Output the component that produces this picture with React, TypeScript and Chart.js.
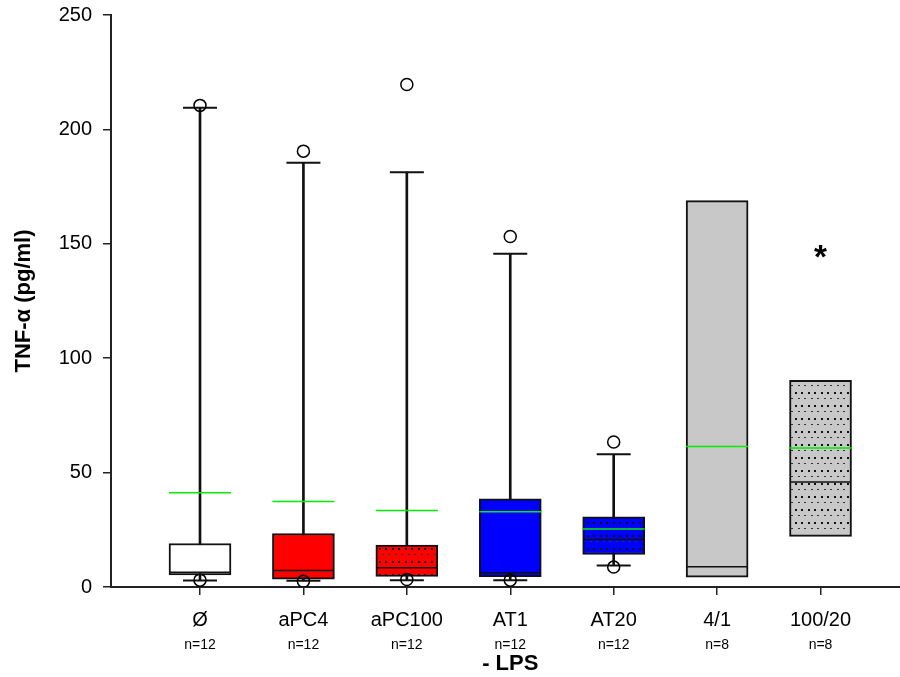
import React, { useEffect, useRef } from 'react';
import { Chart, registerables } from 'chart.js';

Chart.register(...registerables);

const FONT = '"Liberation Sans", Arial, Helvetica, sans-serif';

// ---- data ----
const categories = ['Ø', 'aPC4', 'aPC100', 'AT1', 'AT20', '4/1', '100/20'];
const nLabels = ['n=12', 'n=12', 'n=12', 'n=12', 'n=12', 'n=8', 'n=8'];
const q1 = [5.3, 3.4, 4.6, 4.5, 14.2, 4.3, 22.1];
const q3 = [19.0, 23.4, 18.3, 38.5, 30.7, 168.9, 90.3];
const medians = [6.5, 7.2, 8.4, 6.2, 20.8, 8.8, 45.9];
const means = [41.2, 37.4, 33.4, 32.9, 25.3, 61.4, 60.8];
const whiskerLow: (number | null)[] = [2.8, 2.7, 3.0, 3.0, 9.4, null, null];
const whiskerHigh: (number | null)[] = [209.5, 185.4, 181.3, 145.7, 58.0, null, null];
const outliersHigh: (number | null)[] = [210.5, 190.5, 219.6, 153.2, 63.4, null, null];
const outliersLow: (number | null)[] = [3.0, 2.5, 3.3, 3.0, 8.7, null, null];
const significance = ['', '', '', '', '', '', '*'];
const significanceY: (number | null)[] = [null, null, null, null, null, null, 142.6];
const boxColors = ['#ffffff', '#ff0000', '#ff0000', '#0000ff', '#0000ff', '#c8c8c8', '#c8c8c8'];
const boxDotted = [false, false, true, false, true, false, true];
const yMin = 0;
const yMax = 250;
const yStep = 50;
const yTitle = 'TNF-α (pg/ml)';
const xTitle = '- LPS';
const xTitleUnder = 3; // centred under the 4th group

function dotPattern(color: string): CanvasPattern | string {
  const c = document.createElement('canvas');
  c.width = 13;
  c.height = 13;
  const g = c.getContext('2d');
  if (!g) return color;
  g.fillStyle = color;
  g.fillRect(0, 0, 13, 13);
  g.fillStyle = '#111';
  g.fillRect(2, 2, 2, 2);
  g.fillRect(8, 2, 2, 2);
  g.fillStyle = '#333';
  g.fillRect(5, 8, 2, 1);
  g.fillRect(11, 8, 2, 1);
  const p = g.createPattern(c, 'repeat');
  return p || color;
}

const pts = (arr: (number | null)[]) =>
  arr.map((v, i) => (v == null ? null : { x: i, y: v })).filter((p) => p !== null) as { x: number; y: number }[];

const textPlugin = {
  id: 'textPlugin',
  afterDraw(chart: any) {
    const { ctx, scales } = chart;
    const x = scales.x;
    const y = scales.y;
    ctx.save();
    ctx.fillStyle = '#000';
    ctx.textAlign = 'center';
    ctx.textBaseline = 'middle';
    ctx.font = `14px ${FONT}`;
    nLabels.forEach((t, i) => {
      ctx.fillText(t, x.getPixelForValue(i), x.top + 58);
    });
    ctx.font = `bold 22px ${FONT}`;
    ctx.fillText(xTitle, x.getPixelForValue(xTitleUnder), x.top + 77);
    significance.forEach((s, i) => {
      const v = significanceY[i];
      if (!s || v == null) return;
      ctx.font = `bold 100px ${FONT}`;
      const m = ctx.measureText(s);
      const w = m.actualBoundingBoxLeft + m.actualBoundingBoxRight;
      const size = Math.max(8, (13 / (w || 1)) * 100);
      ctx.font = `bold ${size}px ${FONT}`;
      const m2 = ctx.measureText(s);
      ctx.textBaseline = 'alphabetic';
      const cy = y.getPixelForValue(v);
      const drawY = cy + (m2.actualBoundingBoxAscent - m2.actualBoundingBoxDescent) / 2;
      ctx.fillText(s, x.getPixelForValue(i), drawY);
    });
    ctx.restore();
  },
};

export default function App() {
  const ref = useRef<HTMLCanvasElement | null>(null);

  useEffect(() => {
    if (!ref.current) return;
    Chart.defaults.font.family = FONT;
    const fills = boxColors.map((c, i) => (boxDotted[i] ? dotPattern(c) : c));

    const pxPerUnit = 103.42;
    const left = 111;
    const right = 900;
    const xMinV = -(200 - left) / pxPerUnit;
    const xMaxV = xMinV + (right - left) / pxPerUnit;

    const chart = new Chart(ref.current, {
      type: 'bar',
      data: {
        datasets: [
          {
            type: 'bar',
            label: 'whiskers',
            data: whiskerLow
              .map((lo, i) => (lo == null || whiskerHigh[i] == null ? null : { x: i, y: [lo, whiskerHigh[i]] }))
              .filter((d) => d !== null) as any,
            backgroundColor: '#111',
            borderWidth: 0,
            barThickness: 2,
            grouped: false,
            order: 5,
          } as any,
          {
            type: 'bar',
            label: 'box',
            data: q1.map((lo, i) => ({ x: i, y: [lo, q3[i]] })) as any,
            backgroundColor: fills as any,
            borderColor: '#111',
            borderWidth: 2,
            borderSkipped: false,
            barThickness: 62,
            grouped: false,
            order: 4,
          } as any,
          {
            type: 'scatter',
            label: 'median',
            data: pts(medians),
            pointStyle: 'line',
            pointRadius: 30,
            borderColor: '#111',
            borderWidth: 1.5,
            order: 3,
          } as any,
          {
            type: 'scatter',
            label: 'mean',
            data: pts(means),
            pointStyle: 'line',
            pointRadius: 31,
            borderColor: '#00ee00',
            borderWidth: 1.5,
            order: 2,
          } as any,
          {
            type: 'scatter',
            label: 'caps',
            data: [...pts(whiskerLow), ...pts(whiskerHigh)],
            pointStyle: 'line',
            pointRadius: 17,
            borderColor: '#111',
            borderWidth: 2,
            order: 1,
          } as any,
          {
            type: 'scatter',
            label: 'outliers',
            data: [...pts(outliersLow), ...pts(outliersHigh)],
            pointStyle: 'circle',
            pointRadius: 6,
            backgroundColor: 'rgba(0,0,0,0)',
            borderColor: '#000',
            borderWidth: 1.5,
            order: 0,
          } as any,
        ],
      },
      options: {
        responsive: false,
        animation: false,
        devicePixelRatio: 1,
        events: [],
        layout: { autoPadding: false, padding: { top: 15, left: 0, right: 0, bottom: 0 } },
        plugins: {
          legend: { display: false },
          tooltip: { enabled: false },
          title: { display: false },
        },
        scales: {
          x: {
            type: 'linear',
            position: 'bottom',
            offset: false,
            min: xMinV,
            max: xMaxV,
            afterBuildTicks: (scale: any) => {
              scale.ticks = categories.map((_, i) => ({ value: i }));
            },
            afterFit: (scale: any) => {
              scale.height = 90;
              scale.paddingLeft = 0;
              scale.paddingRight = 0;
            },
            ticks: {
              autoSkip: false,
              maxRotation: 0,
              color: '#000',
              font: { size: 20 },
              padding: 13,
              callback: (v: any) => categories[Math.round(Number(v))] ?? '',
            },
            grid: {
              display: true,
              offset: false,
              drawOnChartArea: false,
              drawTicks: true,
              tickLength: 8,
              color: '#222',
              lineWidth: 1.5,
            },
            border: { display: true, color: '#222', width: 2 },
            title: { display: false },
          },
          y: {
            type: 'linear',
            min: yMin,
            max: yMax,
            afterFit: (scale: any) => {
              scale.width = 111;
              scale.paddingTop = 0;
              scale.paddingBottom = 0;
            },
            ticks: {
              stepSize: yStep,
              color: '#000',
              font: { size: 20 },
              padding: 11,
            },
            grid: {
              display: true,
              drawOnChartArea: false,
              drawTicks: true,
              tickLength: 8,
              color: '#222',
              lineWidth: 1.5,
            },
            border: { display: true, color: '#222', width: 2 },
            title: {
              display: true,
              text: yTitle,
              color: '#000',
              font: { size: 22, weight: 'bold' },
              padding: { top: 11, bottom: 0 },
            },
          },
        },
      },
      plugins: [textPlugin],
    });
    return () => chart.destroy();
  }, []);

  return (
    <div style={{ position: 'absolute', left: 0, top: 0, width: 900, height: 677, background: '#fff' }}>
      <canvas ref={ref} width={900} height={677} />
    </div>
  );
}
